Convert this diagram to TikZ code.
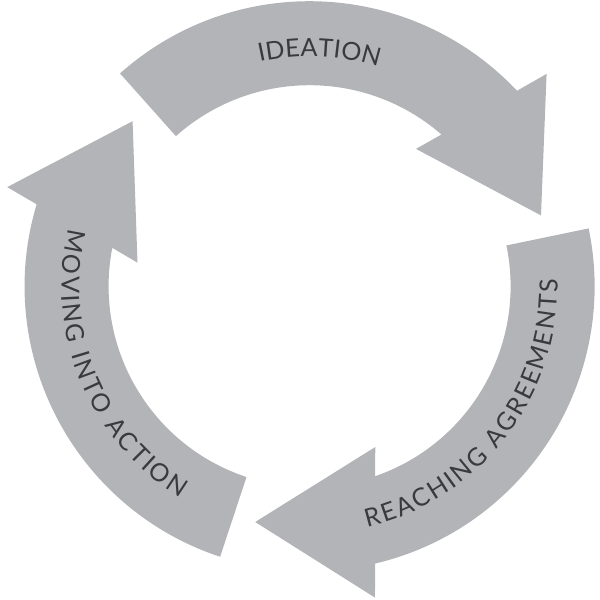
\documentclass[tikz,border=0pt]{standalone}
\usepackage{fontspec}
\newfontfamily\cyclefont{Lato}
\usepackage{tikz}
\usetikzlibrary{decorations.text}
\definecolor{cyclegray}{HTML}{B3B4B7}
\definecolor{cycletext}{HTML}{3A3A3C}

\begin{document}
\begin{tikzpicture}[
        x=1pt, y=1pt,
        band/.style={fill=cyclegray, draw=none},
        arctext/.style={decorate, decoration={text along path,
                    text align={fit to path}, text color=cycletext}}
      ]
        \useasboundingbox (-309.6,-313.8) rectangle (290.4,286.2);
        \foreach \turn in {0,-120,-240} {
          \begin{scope}[rotate=\turn]
            \fill[band] (131.7:285) arc[start angle=131.7, end angle=43.3, radius=285]
              -- (237,212.3) -- (231.4,70.8) -- (106.4,137.3)
              -- (49.0:201) arc[start angle=49.0, end angle=131.7, radius=201] -- cycle;
          \end{scope}
        }
        \path[arctext, decoration={text={|\cyclefont\fontsize{25}{30}\selectfont|IDEATION}}]
          (102.5:230) arc[start angle=102.5, end angle=72.6, radius=230];
        \path[arctext, decoration={text={|\cyclefont\fontsize{25}{30}\selectfont|REACHING AGREEMENTS}}]
          (-76.6:248) arc[start angle=-76.6, end angle=1.6, radius=248];
        \path[arctext, decoration={text={|\cyclefont\fontsize{25}{30}\selectfont|MOVING INTO ACTION}}]
          (166.6:248) arc[start angle=166.6, end angle=238.6, radius=248];
      \end{tikzpicture}
\end{document}
